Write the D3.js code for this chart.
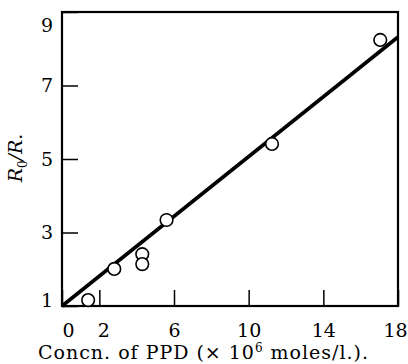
<!DOCTYPE html>
<html>
<head>
<meta charset="utf-8">
<script src="https://cdn.jsdelivr.net/npm/d3@7"></script>
<style>
  html, body { margin: 0; padding: 0; background: #fff; }
  text { font-family: "DejaVu Serif", "Liberation Serif", serif; fill: #000; }
</style>
</head>
<body>
<svg id="chart"></svg>
<script>
// values
var concn = [1.4, 2.8, 4.3, 4.3, 5.6, 11.25, 17.05];      // x 10^6 moles/l.
var ratio = [1.16, 2.01, 2.41, 2.14, 3.34, 5.41, 8.24];   // R0/R
var fitX = [0, 18];
var fitY = [1, 8.32];
var xTicks = [0, 2, 6, 10, 14, 18];
var yTicks = [1, 3, 5, 7, 9];

var W = 408, H = 364;
var margin = {top: 12, right: 10, bottom: 58, left: 62},
    width = W - margin.left - margin.right,
    height = H - margin.top - margin.bottom;

var svg = d3.select("#chart")
    .attr("width", W)
    .attr("height", H)
    .append("g")
    .attr("transform", "translate(" + margin.left + "," + margin.top + ")");

var x = d3.scaleLinear().domain([0, 18]).range([0, width]);
var y = d3.scaleLinear().domain([1, 9]).range([height, 0]);

// X axis, ticks pointing inward
var xAxis = svg.append("g")
    .attr("transform", "translate(0," + height + ")")
    .call(d3.axisBottom(x).tickValues(xTicks).tickSizeInner(-16).tickSizeOuter(0).tickPadding(18));
xAxis.select(".domain").remove();
xAxis.selectAll("line").attr("stroke", "#000").attr("stroke-width", 1.5);
xAxis.selectAll("text")
    .style("font-size", "19px")
    .attr("dx", function (d) { return d === 0 ? 6 : d === 2 ? 4 : d === 18 ? -3 : 0; });

// Y axis
var yAxis = svg.append("g")
    .call(d3.axisLeft(y).tickValues(yTicks).tickSizeInner(-16).tickSizeOuter(0).tickPadding(9));
yAxis.select(".domain").remove();
yAxis.selectAll("line").attr("stroke", "#000").attr("stroke-width", 1.5);
yAxis.selectAll("text")
    .style("font-size", "19px")
    .attr("dy", function (d) { return d === 9 ? "1.0em" : d === 1 ? "0.02em" : "0.32em"; });

// frame
svg.append("rect")
    .attr("x", 0).attr("y", 0)
    .attr("width", width).attr("height", height)
    .attr("fill", "none")
    .attr("stroke", "#000")
    .attr("stroke-width", 2.2);

// fitted line
svg.append("line")
    .attr("x1", x(fitX[0])).attr("y1", y(fitY[0]))
    .attr("x2", x(fitX[1])).attr("y2", y(fitY[1]))
    .attr("stroke", "#000")
    .attr("stroke-width", 3.6);

// points
svg.append("g")
    .selectAll("circle")
    .data(concn)
    .enter()
    .append("circle")
    .attr("cx", function (d) { return x(d); })
    .attr("cy", function (d, i) { return y(ratio[i]); })
    .attr("r", 6.3)
    .attr("fill", "#fff")
    .attr("stroke", "#000")
    .attr("stroke-width", 1.6);

// axis labels
var xl = svg.append("text")
    .attr("x", 141)
    .attr("y", height + 53)
    .attr("text-anchor", "middle")
    .style("font-size", "19px")
    .attr("textLength", 330)
    .attr("lengthAdjust", "spacing");
xl.append("tspan").text("Concn. of PPD (\u00d7 10");
xl.append("tspan").attr("dy", -7).style("font-size", "12px").text("6");
xl.append("tspan").attr("dy", 7).text(" moles/l.).");

var yl = svg.append("text")
    .attr("transform", "translate(" + (-40) + "," + (158 - margin.top) + ") rotate(-90)")
    .attr("text-anchor", "middle")
    .style("font-size", "19px")
    .style("font-style", "italic");
yl.append("tspan").text("R");
yl.append("tspan").attr("dy", 5).style("font-size", "12px").style("font-style", "normal").text("0");
yl.append("tspan").attr("dy", -5).text("/R.");
</script>
</body>
</html>
